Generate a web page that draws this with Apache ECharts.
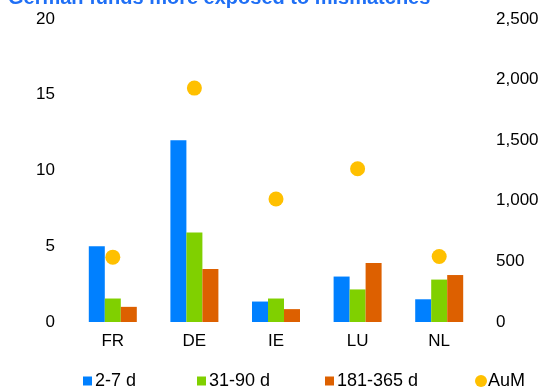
<!DOCTYPE html>
<html>
<head>
<meta charset="utf-8">
<script src="https://cdn.jsdelivr.net/npm/echarts@6/dist/echarts.min.js"></script>
<style>
  html, body { margin: 0; padding: 0; background: #fff; }
  #chart { width: 545px; height: 388px; }
</style>
</head>
<body>
<div id="chart"></div>
<script>
// Fund domiciles
const categories = ['FR', 'DE', 'IE', 'LU', 'NL'];
// Share of funds by redemption horizon (left axis)
const d2to7 = [5.0, 12.0, 1.35, 3.0, 1.5];
const d31to90 = [1.55, 5.9, 1.55, 2.15, 2.8];
const d181to365 = [1.0, 3.5, 0.85, 3.9, 3.1];
// Assets under management (right axis)
const aum = [535, 1930, 1015, 1265, 540];

const seriesNames = ['2-7 d', '31-90 d', '181-365 d', 'AuM'];
const FONT = 'Liberation Sans, Arial, sans-serif';
const chart = echarts.init(document.getElementById('chart'), null, { renderer: 'canvas' });

// one legend block per entry so each sits in its own slot
const legendSlots = [83, 197, 325, 475];
const legends = seriesNames.map((name, i) => {
  const isDot = name === 'AuM';
  return {
    data: [name],
    left: legendSlots[i],
    top: 372,
    padding: 0,
    itemWidth: isDot ? 12 : 9,
    itemHeight: isDot ? 12 : 9,
    icon: isDot ? 'circle' : 'rect',
    itemStyle: { opacity: 1 },
    textStyle: { fontSize: 18, color: '#000', fontFamily: FONT, padding: [0, 0, 0, isDot ? -4 : -2] }
  };
});

chart.setOption({
  animation: false,
  textStyle: { fontFamily: FONT },
  title: {
    text: 'German funds more exposed to mismatches',
    left: 8,
    top: -12,
    padding: 0,
    textStyle: { color: '#1f6ff5', fontSize: 20, fontWeight: 'bold', fontFamily: FONT }
  },
  grid: { left: 72, right: 65, top: 19, bottom: 66 },
  legend: legends,
  xAxis: {
    type: 'category',
    data: categories,
    axisLine: { show: false },
    axisTick: { show: false },
    axisLabel: { fontSize: 17, color: '#000', margin: 11 }
  },
  yAxis: [{
    type: 'value', min: 0, max: 20, interval: 5,
    splitLine: { show: false },
    axisLabel: { fontSize: 17, color: '#000', margin: 17 }
  }, {
    type: 'value', min: 0, max: 2500, interval: 500,
    splitLine: { show: false },
    axisLabel: {
      fontSize: 17, color: '#000', margin: 16,
      formatter: v => v.toLocaleString('en-US')
    }
  }],
  series: [
    { name: '2-7 d', type: 'bar', data: d2to7, barWidth: 16, barGap: '0%', itemStyle: { color: '#0080ff' } },
    { name: '31-90 d', type: 'bar', data: d31to90, barWidth: 16, barGap: '0%', itemStyle: { color: '#80d000' } },
    { name: '181-365 d', type: 'bar', data: d181to365, barWidth: 16, barGap: '0%', itemStyle: { color: '#dd6000' } },
    { name: 'AuM', type: 'scatter', yAxisIndex: 1, data: aum, symbolSize: 15, itemStyle: { color: '#ffc000', opacity: 1 } }
  ]
});
</script>
</body>
</html>
